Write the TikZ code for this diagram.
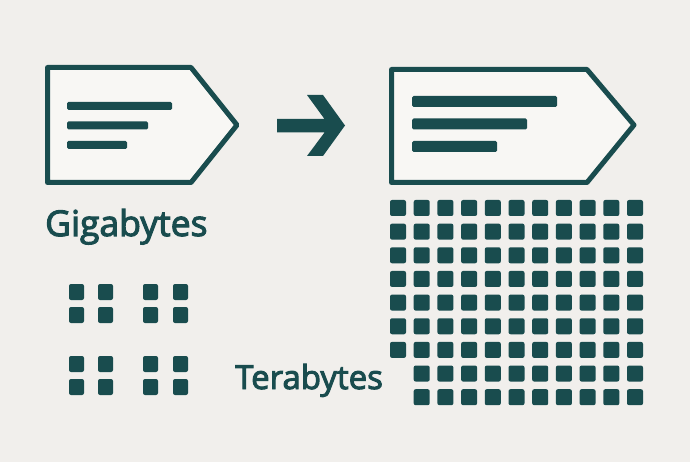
\documentclass[tikz,border=0pt]{standalone}
\usepackage{fontspec}
\setmainfont{Open Sans}
\newfontfamily\lblfont[FakeBold=3]{Open Sans}
\definecolor{teal}{RGB}{25,76,78}
\definecolor{bg}{RGB}{241,239,236}
\definecolor{tagfill}{RGB}{248,247,244}
\tikzset{
  tagbox/.style={draw=teal, fill=tagfill, line width=5pt, line join=round},
  bar/.style={fill=teal, rounded corners=1.5pt},
  cell/.style={fill=teal, rounded corners=2pt},
  lbl/.style={text=teal, inner sep=0pt, anchor=base west},
}
\begin{document}
\begin{tikzpicture}[x=1pt,y=-1pt]
\fill[bg] (0,0) rectangle (690,462);
\useasboundingbox (0,0) rectangle (690,462);
% left tag
\draw[tagbox] (47.5,67.5) -- (191,67.5) -- (237,125) -- (191,182.5) -- (47.5,182.5) -- cycle;
\fill[bar] (67,102) rectangle (172,110);
\fill[bar] (67,121.5) rectangle (148,129.5);
\fill[bar] (67,141) rectangle (127,149);
% arrow
\fill[teal] (277,119) -- (324.5,119) -- (307,95) -- (323,95) -- (345,125.5) -- (323,156) -- (307,156) -- (324.5,132.5) -- (277,132.5) -- cycle;
% right tag
\draw[tagbox] (391.5,69.5) -- (587,69.5) -- (634,125) -- (587,182.5) -- (391.5,182.5) -- cycle;
\fill[bar] (412,96) rectangle (557,107);
\fill[bar] (412,118.5) rectangle (527,129.5);
\fill[bar] (412,141) rectangle (497,152);
% labels
\node[lbl, font=\lblfont\fontsize{35.5}{39}\selectfont] (giga) at (45,236) {Gigabytes};
\node[lbl, font=\lblfont\fontsize{33}{37}\selectfont] (tera) at (235,389) {Terabytes};
% small groups
\foreach \x in {69,98,143,173}{
  \foreach \y in {284,307,356,379}{
    \fill[cell] (\x,\y) rectangle ++(15,16);
  }
}
% big grid
\foreach \j in {0,...,8}{
  \foreach \i in {0,...,10}{
    \ifnum\j>6 \ifnum\i=0 \else
      \fill[cell] ({390+23.7*\i},{200+23.65*\j}) rectangle ++(16,16);
    \fi\else
      \fill[cell] ({390+23.7*\i},{200+23.65*\j}) rectangle ++(16,16);
    \fi
  }
}
\end{tikzpicture}
\end{document}
